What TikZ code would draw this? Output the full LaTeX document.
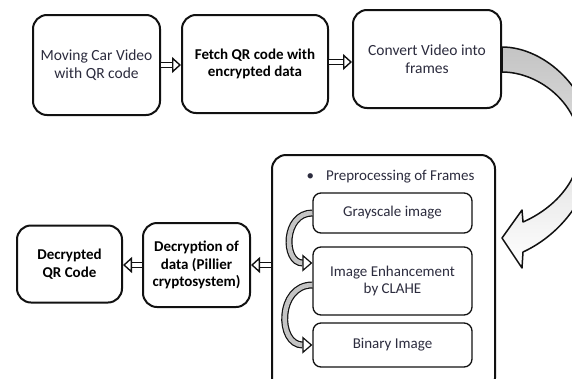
\documentclass[tikz,border=0pt]{standalone}
\usepackage{fontspec}
\setmainfont{Carlito}
\usetikzlibrary{arrows.meta}
\definecolor{QRInk}{HTML}{2C2C3E}
\definecolor{QRShade}{HTML}{C4C4C4}
\definecolor{QRLine}{HTML}{111111}

\begin{document}
\begin{tikzpicture}[x=1pt,y=-1pt,
  stagebox/.style={draw=QRLine,line width=2pt,rounded corners=14pt,align=center,inner sep=2pt,font=\fontsize{15.5}{17.5}\selectfont},
  substage/.style={draw=QRLine,line width=1.3pt,rounded corners=8pt,align=center,minimum width=159,text=QRInk,font=\fontsize{15}{17}\selectfont},
  hollow/.style={draw=QRLine,double,double distance=4pt,line width=1.4pt,-{Triangle[fill=white,length=9pt,width=16pt,line width=1.4pt]}},
  bendarrow/.style={draw=QRLine,double=QRShade,double distance=4.6pt,line width=1.2pt,-{Triangle[fill=white,length=10pt,width=17pt,line width=1.2pt]},looseness=1.5}]
\path[use as bounding box] (0,0) rectangle (572,378);
\fill[white] (0,0) rectangle (572,378);
\clip (0,0) rectangle (572,378);
\node[stagebox,minimum width=127,minimum height=100,text=QRInk] (video) at (96.5,65) {Moving Car Video\\with QR code};
\node[stagebox,minimum width=146,minimum height=98,font=\fontsize{15}{17.5}\selectfont\bfseries] (fetch) at (255,64) {Fetch QR code with\\encrypted data};
\node[stagebox,minimum width=148,minimum height=98,text=QRInk] (frames) at (427,59) {Convert Video into\\frames};
\node[stagebox,minimum width=223,minimum height=237] (prep) at (383.5,273.5) {};
\node[anchor=west,text=QRInk,font=\fontsize{15}{17}\selectfont] (title) at (303,177) {\textbullet\hspace{12pt}Preprocessing of Frames};
\node[substage,minimum height=40] (gray) at (392.5,213) {Grayscale image};
\node[substage,minimum height=68] (enh) at (392.5,281) {Image Enhancement\\by CLAHE};
\node[substage,minimum height=44] (bin) at (392.5,345) {Binary Image};
\node[stagebox,minimum width=107,minimum height=84,font=\fontsize{15}{17.5}\selectfont\bfseries] (decrypt) at (196.5,265) {Decryption of\\data (Pillier\\cryptosystem)};
\node[stagebox,minimum width=105,minimum height=77,font=\fontsize{15}{17.5}\selectfont\bfseries] (result) at (69.5,264) {Decrypted\\QR Code};
\draw[hollow] (video.east) -- (video.east -| fetch.west);
\draw[hollow] ([yshift=2pt]fetch.east) -- ([yshift=2pt]fetch.east -| frames.west);
\draw[hollow] (decrypt.east -| prep.west) -- (decrypt.east);
\draw[hollow] (decrypt.west) -- (decrypt.west -| result.east);
\draw[bendarrow] (gray.west) to[out=180,in=180] ([yshift=18pt]enh.west);
\draw[bendarrow] ([yshift=-4pt]enh.west) to[out=180,in=180] (bin.west);
\draw[QRLine,line width=1.5pt,line join=round,top color=QRShade,bottom color=white]
  ([yshift=12pt]frames.east) .. controls (545,47) and (592,90) .. (593,145)
  .. controls (594,195) and (560,235) .. (523,252) -- (522,268) -- (502,238) -- (522,210) -- (523,222)
  .. controls (555,208) and (580,180) .. (580,147) .. controls (580,105) and (540,72) .. ([yshift=-13pt]frames.east) -- cycle;
\end{tikzpicture}
\end{document}
